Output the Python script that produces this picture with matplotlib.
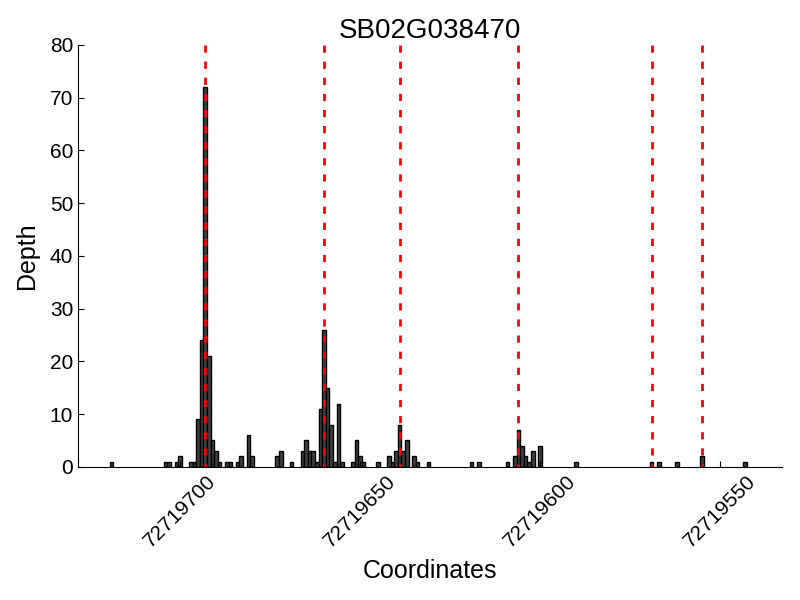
import numpy as np
import matplotlib
matplotlib.use('Agg')
import matplotlib.pyplot as plt
from matplotlib.ticker import FixedLocator, FormatStrFormatter

plt.rcParams['font.family'] = ['Liberation Sans', 'DejaVu Sans']

gene = 'SB02G038470'
base = 72719000

# coordinate offset (from base) and read depth
coords = [719, 704, 703, 701, 700, 697, 696, 695, 694, 693, 692, 691, 690, 689,
          687, 686, 684, 683, 681, 680, 673, 672, 669,
          666, 665, 664, 663, 662, 661, 660, 659, 658, 657, 656, 655,
          652, 651, 650, 649, 645, 642, 641, 640, 639, 638, 637, 635, 634, 631,
          619, 617, 609, 607, 606, 605, 604, 603, 602, 600, 590,
          569, 567, 562, 555, 543]
depth = [1, 1, 1, 1, 2, 1, 1, 9, 24, 72, 21, 5, 3, 1,
         1, 1, 1, 2, 6, 2, 2, 3, 1,
         3, 5, 3, 3, 1, 11, 26, 15, 8, 1, 12, 1,
         1, 5, 2, 1, 1, 2, 1, 3, 8, 3, 5, 2, 1, 1,
         1, 1, 1, 2, 7, 4, 2, 1, 3, 4, 1,
         1, 1, 1, 2, 1]
sites = [693, 660, 639, 606, 569, 555]
xticks = [72719700, 72719650, 72719600, 72719550]

x = np.array(coords) + base

fig = plt.figure(figsize=(8, 6), dpi=100)
ax = fig.add_axes([0.0975, 0.222, 0.8795, 0.703])

ax.bar(x, depth, width=1, align='center', color='#404040', edgecolor='black', linewidth=1)
# dashed site lines drawn top-down so the dash pattern starts at the top
for s in sites:
    ax.plot([base + s, base + s], [80, 0], color='red', linewidth=2,
            linestyle='--', dashes=(2.6, 3.2), clip_on=False)

ax.set_xlim(base + 728.3, base + 532.9)
ax.set_ylim(0, 80)
ax.xaxis.set_major_locator(FixedLocator(xticks))
ax.xaxis.set_major_formatter(FormatStrFormatter('%d'))
ax.set_yticks(range(0, 81, 10))

for side in ['top', 'right']:
    ax.spines[side].set_visible(False)
ax.tick_params(direction='in', length=4, labelsize=15, top=False, right=False)
plt.setp(ax.get_xticklabels(), rotation=45)

ax.set_title(gene, fontsize=20, pad=5)
ax.set_xlabel('Coordinates', fontsize=18, labelpad=6)
ax.set_ylabel('Depth', fontsize=18, labelpad=8)

fig.savefig('out.png', dpi=100)
